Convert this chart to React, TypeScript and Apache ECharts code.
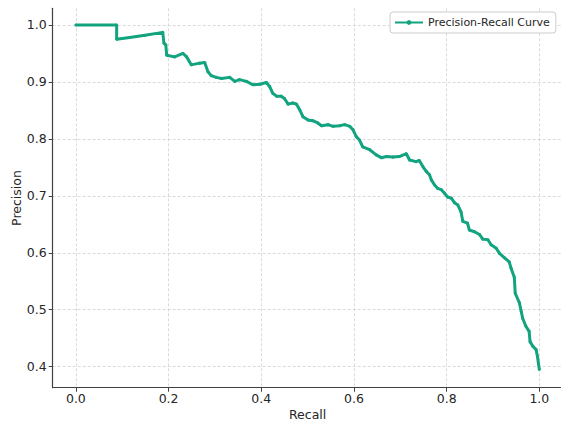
import React, { useEffect, useRef } from "react";
import * as echarts from "echarts";

const recall: number[] = [
  0.0, 0.088, 0.088, 0.116, 0.149, 0.1875, 0.19, 0.194, 0.196, 0.213,
  0.231, 0.239, 0.249, 0.267, 0.278, 0.285, 0.292, 0.303, 0.314, 0.332,
  0.343, 0.353, 0.368, 0.382, 0.397, 0.411, 0.418, 0.425, 0.433, 0.443,
  0.45, 0.458, 0.468, 0.476, 0.483, 0.49, 0.501, 0.511, 0.522, 0.53,
  0.544, 0.555, 0.569, 0.58, 0.591, 0.598, 0.605, 0.612, 0.619, 0.634,
  0.648, 0.659, 0.67, 0.684, 0.698, 0.713, 0.72, 0.734, 0.741, 0.749,
  0.756, 0.763, 0.767, 0.774, 0.781, 0.788, 0.795, 0.802, 0.81, 0.817,
  0.824, 0.831, 0.835, 0.845, 0.849, 0.86, 0.871, 0.878, 0.889, 0.896,
  0.907, 0.914, 0.925, 0.935, 0.939, 0.946, 0.948, 0.957, 0.961, 0.964,
  0.971, 0.978, 0.98, 0.986, 0.993, 0.996, 0.998, 1.0,
];

const precision: number[] = [
  1.0, 1.0, 0.975, 0.978, 0.982, 0.987, 0.968, 0.965, 0.947, 0.944,
  0.95, 0.944, 0.93, 0.933, 0.934, 0.918, 0.911, 0.908, 0.906, 0.908,
  0.901, 0.904, 0.901, 0.895, 0.896, 0.899, 0.892, 0.88, 0.875, 0.875,
  0.871, 0.861, 0.863, 0.861, 0.851, 0.839, 0.833, 0.832, 0.828, 0.823,
  0.825, 0.822, 0.823, 0.825, 0.822, 0.816, 0.804, 0.798, 0.786, 0.781,
  0.772, 0.767, 0.769, 0.768, 0.769, 0.774, 0.763, 0.76, 0.762, 0.751,
  0.743, 0.737, 0.728, 0.719, 0.713, 0.711, 0.705, 0.698, 0.696, 0.688,
  0.684, 0.672, 0.655, 0.652, 0.64, 0.637, 0.632, 0.624, 0.623, 0.614,
  0.608, 0.599, 0.591, 0.584, 0.573, 0.557, 0.529, 0.512, 0.497, 0.485,
  0.471, 0.462, 0.444, 0.436, 0.43, 0.418, 0.406, 0.395,
];

const xTicks: number[] = [0, 0.2, 0.4, 0.6, 0.8, 1.0];
const yTicks: number[] = [0.4, 0.5, 0.6, 0.7, 0.8, 0.9, 1.0];

const seriesName = "Precision-Recall Curve";
const xLabel = "Recall";
const yLabel = "Precision";

export default function App() {
  const ref = useRef<HTMLDivElement>(null);

  useEffect(() => {
    if (!ref.current) return;
    const chart = echarts.init(ref.current, undefined, { renderer: "svg" });
    const font = "DejaVu Sans";
    const textColor = "#262626";
    const gridLine = { show: true, lineStyle: { color: "#d0d0d0", type: [3, 2] as any, width: 0.8 } };
    chart.setOption({
      animation: false,
      backgroundColor: "#ffffff",
      grid: {
        left: 52.7,
        top: 8.3,
        width: 509.8,
        height: 379.4,
        containLabel: false,
        outerBoundsMode: "none",
      },
      legend: {
        data: [seriesName],
        left: 390,
        top: 12,
        padding: [5, 6, 5, 4],
        itemWidth: 28,
        itemHeight: 6,
        itemGap: 6,
        borderColor: "#cccccc",
        borderWidth: 1,
        borderRadius: 3,
        backgroundColor: "#ffffff",
        textStyle: { fontFamily: font, fontSize: 11, color: textColor },
      },
      xAxis: {
        type: "value",
        min: -0.05,
        max: 1.05,
        name: xLabel,
        nameLocation: "middle",
        nameGap: 20.5,
        nameMoveOverlap: false,
        nameTextStyle: { fontFamily: font, fontSize: 12.5, color: textColor },
        axisLine: { show: true, onZero: false, lineStyle: { color: "#404040", width: 1.2 } },
        axisTick: { show: true, length: 4, inside: false, customValues: xTicks, lineStyle: { color: "#404040" } },
        axisLabel: {
          customValues: xTicks,
          fontFamily: font,
          fontSize: 12.5,
          color: textColor,
          margin: 4,
          formatter: (v: number) => v.toFixed(1),
        },
        splitLine: gridLine,
      },
      yAxis: {
        type: "value",
        min: 0.3631,
        max: 1.0293,
        name: yLabel,
        nameLocation: "middle",
        nameGap: 30,
        nameMoveOverlap: false,
        nameTextStyle: { fontFamily: font, fontSize: 12.5, color: textColor },
        axisLine: { show: true, onZero: false, lineStyle: { color: "#404040", width: 1.2 } },
        axisTick: { show: true, length: 4, inside: false, customValues: yTicks, lineStyle: { color: "#404040" } },
        axisLabel: {
          customValues: yTicks,
          fontFamily: font,
          fontSize: 12.5,
          color: textColor,
          margin: 6,
          formatter: (v: number) => v.toFixed(1),
        },
        splitLine: gridLine,
      },
      series: [
        {
          name: seriesName,
          type: "line",
          data: recall.map((r, i) => [r, precision[i]]),
          symbol: "circle",
          symbolSize: 3,
          showSymbol: true,
          color: "#12a37f",
          lineStyle: { color: "#12a37f", width: 3 },
          itemStyle: { color: "#12a37f" },
        },
      ],
    });
    return () => chart.dispose();
  }, []);

  return (
    <div
      ref={ref}
      style={{ position: "fixed", left: 0, top: 0, width: 561, height: 422 }}
    />
  );
}
